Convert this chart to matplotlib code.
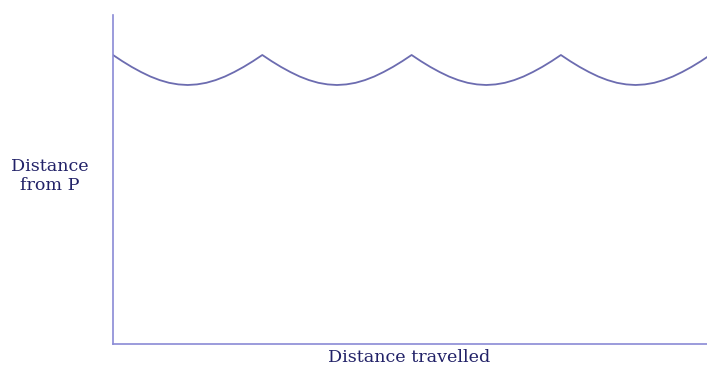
import matplotlib.pyplot as plt

# one side of the path: height of the curve above the x axis, read at 17 evenly spaced points
lado = [289, 282.8, 277.1, 272, 267.5, 263.9, 261.2, 259.6, 259,
        259.6, 261.2, 263.9, 267.5, 272, 277.1, 282.8, 289]
n_lados = 4

x = []
y = []
for k in range(n_lados):
    for i, v in enumerate(lado):
        if k > 0 and i == 0:
            continue
        x.append(k + i / (len(lado) - 1))
        y.append(v)

color_linea = '#6c6cb0'
color_eje = '#8a8ad6'
color_texto = '#222268'

fig = plt.figure(figsize=(7.07, 3.67), dpi=100)
ax = fig.add_axes([113 / 707, 23 / 367, 594 / 707, 329 / 367])

ax.plot(x, y, color=color_linea, linewidth=1.3)

ax.set_xlim(0, 594 / 149.3)
ax.set_ylim(0, 329)
ax.set_xticks([])
ax.set_yticks([])
ax.spines['top'].set_visible(False)
ax.spines['right'].set_visible(False)
for s in ['left', 'bottom']:
    ax.spines[s].set_color(color_eje)
    ax.spines[s].set_linewidth(1.2)

fig.text(409 / 707, 1 - 358 / 367, 'Distance travelled', ha='center', va='center',
         family='DejaVu Serif', fontsize=12.6, color=color_texto)
fig.text(50 / 707, 1 - 176 / 367, 'Distance\nfrom P', ha='center', va='center',
         family='DejaVu Serif', fontsize=12.6, color=color_texto, linespacing=1.15)

fig.savefig('out.png', dpi=100)
